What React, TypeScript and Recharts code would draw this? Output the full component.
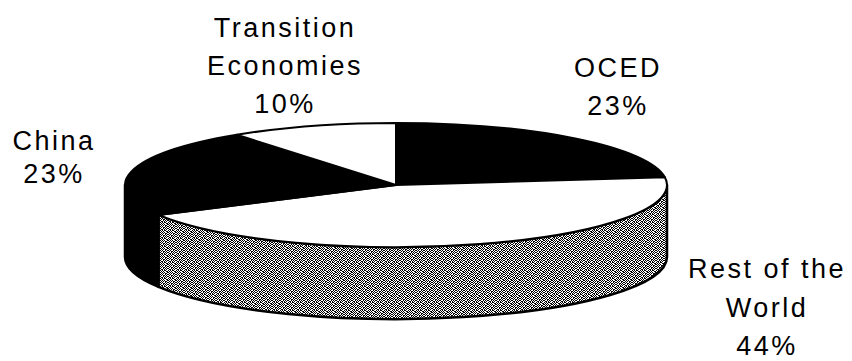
import { Cell, Pie, PieChart } from "recharts";

// Share of the total (clockwise from 12 o'clock).
const categories = ["OCED", "Rest of the World", "China", "Transition Economies"];
const shares = [23, 44, 23, 10];

// How each category name wraps in its label.
const labelWrap: Record<string, string[]> = {
  "Rest of the World": ["Rest of the", "World"],
  "Transition Economies": ["Transition", "Economies"],
};

const data = categories.map((name, i) => ({ name, value: shares[i] }));

const topFill: Record<string, string> = {
  OCED: "#000000",
  "Rest of the World": "#ffffff",
  China: "#000000",
  "Transition Economies": "#ffffff",
};

const sideFill: Record<string, string> = {
  OCED: "#000000",
  "Rest of the World": "url(#stipple)",
  China: "#000000",
  "Transition Economies": "#ffffff",
};

// Label placement (centre x, first baseline, line gap), same order as categories.
const labelLayout = [
  { x: 618, y: 77, gap: 38 },
  { x: 767, y: 278, gap: 38.5 },
  { x: 54, y: 150, gap: 33 },
  { x: 285, y: 37, gap: 38 },
];

// dithered grey used on the wall of "Rest of the World" (1 = black pixel)
const stippleRows = [
  "10101001",
  "01010110",
  "10100101",
  "01011010",
  "10010101",
  "01101010",
  "10101100",
  "01010011",
];

const WIDTH = 852;
const HEIGHT = 361;
const TILT = 0.229; // ry / rx of the top face
const DEPTH = 72; // height of the cylinder wall
const RAD = Math.PI / 180;

function Slice3D(props: any) {
  const { cx, cy, outerRadius, startAngle, endAngle } = props;
  const name: string = props.payload?.name ?? props.name;
  const rx = outerRadius;
  const ry = rx * TILT;
  const pt = (a: number, dy = 0) =>
    `${cx + rx * Math.cos(a * RAD)},${cy - ry * Math.sin(a * RAD) + dy}`;

  const hi = Math.max(startAngle, endAngle);
  const lo = Math.min(startAngle, endAngle);
  const large = hi - lo > 180 ? 1 : 0;
  const top = `M${cx},${cy} L${pt(hi)} A${rx},${ry} 0 ${large} 1 ${pt(lo)} Z`;

  // front half of the rim lies between -180° and 0°
  const wHi = Math.min(hi, 0);
  const wLo = Math.max(lo, -180);
  const wall =
    wHi > wLo
      ? `M${pt(wHi)} A${rx},${ry} 0 0 1 ${pt(wLo)} L${pt(wLo, DEPTH)} A${rx},${ry} 0 0 0 ${pt(wHi, DEPTH)} Z`
      : null;

  return (
    <g>
      {wall && (
        <path d={wall} fill={sideFill[name]} stroke="#000" strokeWidth={2.5} strokeLinejoin="round" />
      )}
      <path d={top} fill={topFill[name]} stroke="#000" strokeWidth={2} strokeLinejoin="round" />
    </g>
  );
}

function SliceLabel(props: any) {
  const { index, name, value } = props;
  const pos = labelLayout[index];
  const lines = [...(labelWrap[name] ?? [name]), `${value}%`];
  return (
    <text
      x={pos.x}
      y={pos.y}
      textAnchor="middle"
      fill="#000"
      fontFamily="'Liberation Sans', Arial, Helvetica, sans-serif"
      fontSize={27}
      letterSpacing={2.5}
    >
      {lines.map((line, i) => (
        <tspan key={line} x={pos.x} y={pos.y + i * pos.gap}>
          {line}
        </tspan>
      ))}
    </text>
  );
}

export default function App() {
  return (
    <div style={{ position: "absolute", left: 0, top: 0, width: WIDTH, height: HEIGHT, background: "#fff" }}>
      <PieChart width={WIDTH} height={HEIGHT} margin={{ top: 0, right: 0, bottom: 0, left: 0 }}>
        <defs>
          <pattern id="stipple" width={8} height={8} patternUnits="userSpaceOnUse">
            <rect width={8} height={8} fill="#ffffff" />
            {stippleRows.flatMap((row, y) =>
              row.split("").map((c, x) =>
                c === "1" ? <rect key={`${x}-${y}`} x={x} y={y} width={1} height={1} fill="#000" /> : null
              )
            )}
          </pattern>
        </defs>
        <Pie
          data={data}
          dataKey="value"
          nameKey="name"
          cx={396}
          cy={185}
          innerRadius={0}
          outerRadius={271}
          startAngle={90}
          endAngle={-270}
          stroke="none"
          isAnimationActive={false}
          shape={Slice3D}
          activeShape={Slice3D}
          inactiveShape={Slice3D}
          label={SliceLabel}
          labelLine={false}
        >
          {data.map((entry) => (
            <Cell key={entry.name} fill={topFill[entry.name]} />
          ))}
        </Pie>
      </PieChart>
    </div>
  );
}
